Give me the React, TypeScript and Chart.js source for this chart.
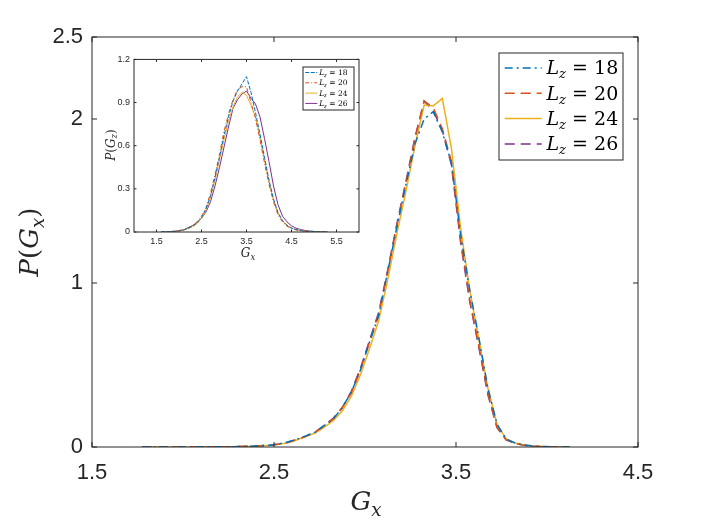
import { useEffect, useRef } from "react";
import { Chart, registerables } from "chart.js";

Chart.register(...registerables);

// L_z of each curve, same order everywhere
const lzValues = [18, 20, 24, 26];
const seriesColors = ["#0072BD", "#D95319", "#EDB120", "#7E2F8E"];

// main plot: P(G_x)
const mainGx = [
  1.775, 1.825, 1.875, 1.925, 1.975, 2.025, 2.075, 2.125, 2.175, 2.225, 2.275, 2.325,
  2.375, 2.425, 2.475, 2.525, 2.575, 2.625, 2.675, 2.725, 2.775, 2.825, 2.875, 2.925,
  2.975, 3.025, 3.075, 3.125, 3.175, 3.225, 3.275, 3.325, 3.375, 3.425, 3.475, 3.525,
  3.575, 3.625, 3.675, 3.725, 3.775, 3.825, 3.875, 3.925, 3.975, 4.025, 4.075, 4.125,
];
const mainP18 = [
  0, 0, 0, 0, 0, 0, 0, 0.001, 0.001, 0.002, 0.002, 0.003,
  0.005, 0.008, 0.011, 0.018, 0.03, 0.047, 0.068, 0.09, 0.13, 0.17, 0.24, 0.335,
  0.47, 0.64, 0.8, 1.07, 1.34, 1.6, 1.85, 2.0, 2.045, 1.92, 1.73, 1.3,
  0.96, 0.67, 0.36, 0.14, 0.05, 0.024, 0.012, 0.006, 0.003, 0.001, 0, 0,
];
const mainP20 = [
  0, 0, 0, 0, 0, 0, 0.001, 0.001, 0.001, 0.002, 0.002, 0.003,
  0.005, 0.007, 0.01, 0.017, 0.028, 0.045, 0.066, 0.088, 0.13, 0.17, 0.24, 0.33,
  0.47, 0.64, 0.81, 1.07, 1.35, 1.61, 1.88, 2.11, 2.07, 1.94, 1.74, 1.27,
  0.9, 0.62, 0.33, 0.12, 0.045, 0.022, 0.011, 0.005, 0.002, 0.001, 0, 0,
];
const mainP24 = [
  0, 0, 0, 0, 0, 0, 0.001, 0.001, 0.001, 0.002, 0.002, 0.003,
  0.005, 0.007, 0.01, 0.016, 0.026, 0.043, 0.063, 0.085, 0.12, 0.16, 0.22, 0.31,
  0.44, 0.6, 0.77, 1.02, 1.3, 1.56, 1.84, 2.085, 2.08, 2.125, 1.82, 1.34,
  0.96, 0.66, 0.36, 0.14, 0.05, 0.024, 0.012, 0.006, 0.003, 0.001, 0, 0,
];
const mainP26 = [
  0, 0, 0, 0, 0, 0, 0, 0.001, 0.001, 0.001, 0.002, 0.003,
  0.004, 0.007, 0.011, 0.018, 0.029, 0.046, 0.065, 0.09, 0.13, 0.175, 0.24, 0.34,
  0.48, 0.65, 0.82, 1.08, 1.36, 1.62, 1.89, 2.11, 2.05, 1.93, 1.72, 1.25,
  0.89, 0.61, 0.32, 0.12, 0.044, 0.021, 0.01, 0.005, 0.002, 0.001, 0, 0,
];
const mainXTicks = [1.5, 2.5, 3.5, 4.5];
const mainYTicks = [0, 1, 2, 2.5];

// inset: P(G_z)
const insetGx = [
  1.6, 1.7, 1.8, 1.9, 2.0, 2.1, 2.2, 2.3, 2.4, 2.5, 2.6, 2.7, 2.8, 2.9, 3.0, 3.1, 3.2, 3.3, 3.4,
  3.5, 3.6, 3.7, 3.8, 3.9, 4.0, 4.1, 4.2, 4.3, 4.4, 4.5, 4.6, 4.7, 4.8, 4.9, 5.0, 5.1, 5.2, 5.3,
];
const insetP18 = [
  0, 0.001, 0.002, 0.005, 0.009, 0.015, 0.025, 0.04, 0.062, 0.1, 0.16, 0.25, 0.38, 0.52, 0.67, 0.8, 0.91, 0.98, 1.03,
  1.08, 0.97, 0.83, 0.68, 0.52, 0.36, 0.23, 0.135, 0.08, 0.047, 0.028, 0.017, 0.01, 0.006, 0.004, 0.002, 0.001, 0, 0,
];
const insetP20 = [
  0, 0.001, 0.003, 0.006, 0.01, 0.017, 0.028, 0.045, 0.07, 0.11, 0.17, 0.27, 0.4, 0.54, 0.7, 0.82, 0.92, 0.99, 1.01,
  1.01, 0.9, 0.79, 0.64, 0.48, 0.33, 0.21, 0.12, 0.07, 0.04, 0.025, 0.015, 0.009, 0.005, 0.003, 0.002, 0.001, 0, 0,
];
const insetP24 = [
  0, 0.001, 0.002, 0.005, 0.008, 0.014, 0.023, 0.037, 0.058, 0.095, 0.15, 0.24, 0.36, 0.5, 0.64, 0.77, 0.87, 0.94, 0.97,
  0.95, 0.88, 0.8, 0.66, 0.5, 0.35, 0.22, 0.13, 0.075, 0.045, 0.027, 0.016, 0.01, 0.006, 0.004, 0.002, 0.001, 0, 0,
];
const insetP26 = [
  0, 0.001, 0.002, 0.004, 0.007, 0.012, 0.03, 0.045, 0.065, 0.095, 0.14, 0.21, 0.32, 0.45, 0.59, 0.73, 0.86, 0.92, 0.96,
  0.98, 0.93, 0.89, 0.8, 0.65, 0.49, 0.32, 0.19, 0.11, 0.07, 0.043, 0.027, 0.017, 0.011, 0.007, 0.004, 0.002, 0.001, 0,
];
const insetXTicks = [1.5, 2.5, 3.5, 4.5, 5.5];
const insetYTicks = [0, 0.3, 0.6, 0.9, 1.2];

const axisColor = "#262626";
const sansFont = '"Liberation Sans", Arial, sans-serif';
const serifFont = '"DejaVu Serif", "Liberation Serif", serif';

type Run = { t: string; it?: boolean; sub?: boolean };

function drawRuns(ctx: CanvasRenderingContext2D, runs: Run[], x: number, y: number, size: number, center: boolean) {
  const fontOf = (r: Run) => `${r.it ? "italic " : ""}${r.sub ? size * 0.7 : size}px ${serifFont}`;
  let w = 0;
  for (const r of runs) {
    ctx.font = fontOf(r);
    w += ctx.measureText(r.t).width;
  }
  let cx = center ? x - w / 2 : x;
  ctx.textAlign = "left";
  ctx.textBaseline = "alphabetic";
  for (const r of runs) {
    ctx.font = fontOf(r);
    ctx.fillText(r.t, cx, r.sub ? y + size * 0.22 : y);
    cx += ctx.measureText(r.t).width;
  }
}

interface Deco {
  tickLen: number;
  titleSize: number;
  xTitle: { x: number; y: number; runs: Run[] };
  yTitle: { x: number; y: number; runs: Run[] };
  legend: { left: number; top: number; width: number; height: number; first: number; step: number; line: number; size: number };
}

// box, inward ticks, axis titles and legend, drawn the way MATLAB does
function decoPlugin(d: Deco) {
  return {
    id: "deco",
    afterDatasetsDraw(chart: Chart) {
      const { ctx, chartArea: a } = chart;
      const sx = chart.scales.x;
      const sy = chart.scales.y;
      ctx.save();
      ctx.strokeStyle = axisColor;
      ctx.lineWidth = 1;
      ctx.setLineDash([]);
      ctx.strokeRect(a.left, a.top, a.width, a.height);
      ctx.beginPath();
      for (const t of sx.ticks) {
        const px = sx.getPixelForValue(t.value);
        ctx.moveTo(px, a.bottom);
        ctx.lineTo(px, a.bottom - d.tickLen);
        ctx.moveTo(px, a.top);
        ctx.lineTo(px, a.top + d.tickLen);
      }
      for (const t of sy.ticks) {
        const py = sy.getPixelForValue(t.value);
        ctx.moveTo(a.left, py);
        ctx.lineTo(a.left + d.tickLen, py);
        ctx.moveTo(a.right, py);
        ctx.lineTo(a.right - d.tickLen, py);
      }
      ctx.stroke();

      ctx.fillStyle = axisColor;
      drawRuns(ctx, d.xTitle.runs, d.xTitle.x, d.xTitle.y, d.titleSize, true);
      ctx.save();
      ctx.translate(d.yTitle.x, d.yTitle.y);
      ctx.rotate(-Math.PI / 2);
      drawRuns(ctx, d.yTitle.runs, 0, d.titleSize * 0.3, d.titleSize, true);
      ctx.restore();

      const lg = d.legend;
      ctx.fillStyle = "#ffffff";
      ctx.fillRect(lg.left, lg.top, lg.width, lg.height);
      ctx.strokeStyle = axisColor;
      ctx.lineWidth = 1;
      ctx.strokeRect(lg.left, lg.top, lg.width, lg.height);
      chart.data.datasets.forEach((ds: any, i: number) => {
        const yy = lg.top + lg.first + i * lg.step;
        ctx.strokeStyle = ds.borderColor;
        ctx.lineWidth = ds.borderWidth;
        ctx.setLineDash(ds.borderDash || []);
        ctx.beginPath();
        ctx.moveTo(lg.left + lg.size * 0.3, yy);
        ctx.lineTo(lg.left + lg.size * 0.3 + lg.line, yy);
        ctx.stroke();
        ctx.setLineDash([]);
        ctx.fillStyle = "#000000";
        drawRuns(
          ctx,
          [{ t: "L", it: true }, { t: "z", it: true, sub: true }, { t: ` = ${lzValues[i]}` }],
          lg.left + lg.size * 0.55 + lg.line,
          yy + lg.size * 0.33,
          lg.size,
          false,
        );
      });
      ctx.restore();
    },
  };
}

function makeDatasets(xs: number[], ys: number[][], widths: number, dashes: number[][]) {
  return ys.map((vals, i) => ({
    label: `L_z = ${lzValues[i]}`,
    data: xs.map((x, j) => ({ x, y: vals[j] })),
    borderColor: seriesColors[i],
    backgroundColor: seriesColors[i],
    borderWidth: widths,
    borderDash: dashes[i],
    pointRadius: 0,
    showLine: true,
    fill: false,
    tension: 0,
  }));
}

function scaleOpts(min: number, max: number, ticks: number[], size: number, pad: number, fit: (s: any) => void) {
  return {
    type: "linear" as const,
    min,
    max,
    grid: { display: false, drawTicks: false },
    border: { display: false },
    afterBuildTicks: (s: any) => {
      s.ticks = ticks.map((v) => ({ value: v }));
    },
    afterFit: fit,
    ticks: {
      color: axisColor,
      padding: pad,
      font: { family: sansFont, size },
      maxRotation: 0,
      autoSkip: false,
      callback: (v: any) => String(v),
    },
  };
}

function MainPlot() {
  const ref = useRef<HTMLCanvasElement>(null);
  useEffect(() => {
    if (!ref.current) return;
    const chart = new Chart(ref.current, {
      type: "scatter",
      data: {
        datasets: makeDatasets(mainGx, [mainP18, mainP20, mainP24, mainP26], 1.5, [
          [8, 4, 2, 4],
          [10, 6],
          [],
          [10, 6],
        ]) as any,
      },
      options: {
        responsive: false,
        animation: false,
        layout: { padding: { top: 37, right: 68, left: 0, bottom: 0 } },
        plugins: { legend: { display: false }, tooltip: { enabled: false } },
        scales: {
          x: scaleOpts(1.5, 4.5, mainXTicks, 22, 13, (s) => {
            s.height = 71;
          }),
          y: scaleOpts(0, 2.5, mainYTicks, 22, 9, (s) => {
            s.width = 92;
          }),
        },
      },
      plugins: [
        decoPlugin({
          tickLen: 5,
          titleSize: 26,
          xTitle: { x: 366, y: 510, runs: [{ t: "G", it: true }, { t: "x", it: true, sub: true }] },
          yTitle: {
            x: 30,
            y: 242,
            runs: [{ t: "P", it: true }, { t: "(" }, { t: "G", it: true }, { t: "x", it: true, sub: true }, { t: ")" }],
          },
          legend: { left: 499, top: 53, width: 124, height: 107, first: 15, step: 25.3, line: 37, size: 19 },
        }),
      ],
    });
    return () => chart.destroy();
  }, []);
  return <canvas ref={ref} width={706} height={518} style={{ position: "absolute", left: 0, top: 0 }} />;
}

function InsetPlot() {
  const ref = useRef<HTMLCanvasElement>(null);
  useEffect(() => {
    if (!ref.current) return;
    const chart = new Chart(ref.current, {
      type: "scatter",
      data: {
        datasets: makeDatasets(insetGx, [insetP18, insetP20, insetP24, insetP26], 1, [
          [4, 1.5],
          [4, 2, 1, 2],
          [],
          [],
        ]) as any,
      },
      options: {
        responsive: false,
        animation: false,
        layout: { padding: { top: 9, right: 9, left: 0, bottom: 0 } },
        plugins: { legend: { display: false }, tooltip: { enabled: false } },
        scales: {
          x: scaleOpts(1, 6, insetXTicks, 9, 4, (s) => {
            s.height = 33;
          }),
          y: scaleOpts(0, 1.2, insetYTicks, 9, 4, (s) => {
            s.width = 38;
          }),
        },
      },
      plugins: [
        decoPlugin({
          tickLen: 2.5,
          titleSize: 12,
          xTitle: { x: 152, y: 207, runs: [{ t: "G", it: true }, { t: "x", it: true, sub: true }] },
          yTitle: {
            x: 15,
            y: 95,
            runs: [{ t: "P", it: true }, { t: "(" }, { t: "G", it: true }, { t: "z", it: true, sub: true }, { t: ")" }],
          },
          legend: { left: 207, top: 17, width: 51, height: 43, first: 5.5, step: 10.3, line: 12, size: 7.5 },
        }),
      ],
    });
    return () => chart.destroy();
  }, []);
  return <canvas ref={ref} width={272} height={215} style={{ position: "absolute", left: 96, top: 50 }} />;
}

export default function App() {
  return (
    <div style={{ position: "absolute", left: 0, top: 0, width: 706, height: 518, background: "#ffffff" }}>
      <MainPlot />
      <InsetPlot />
    </div>
  );
}
